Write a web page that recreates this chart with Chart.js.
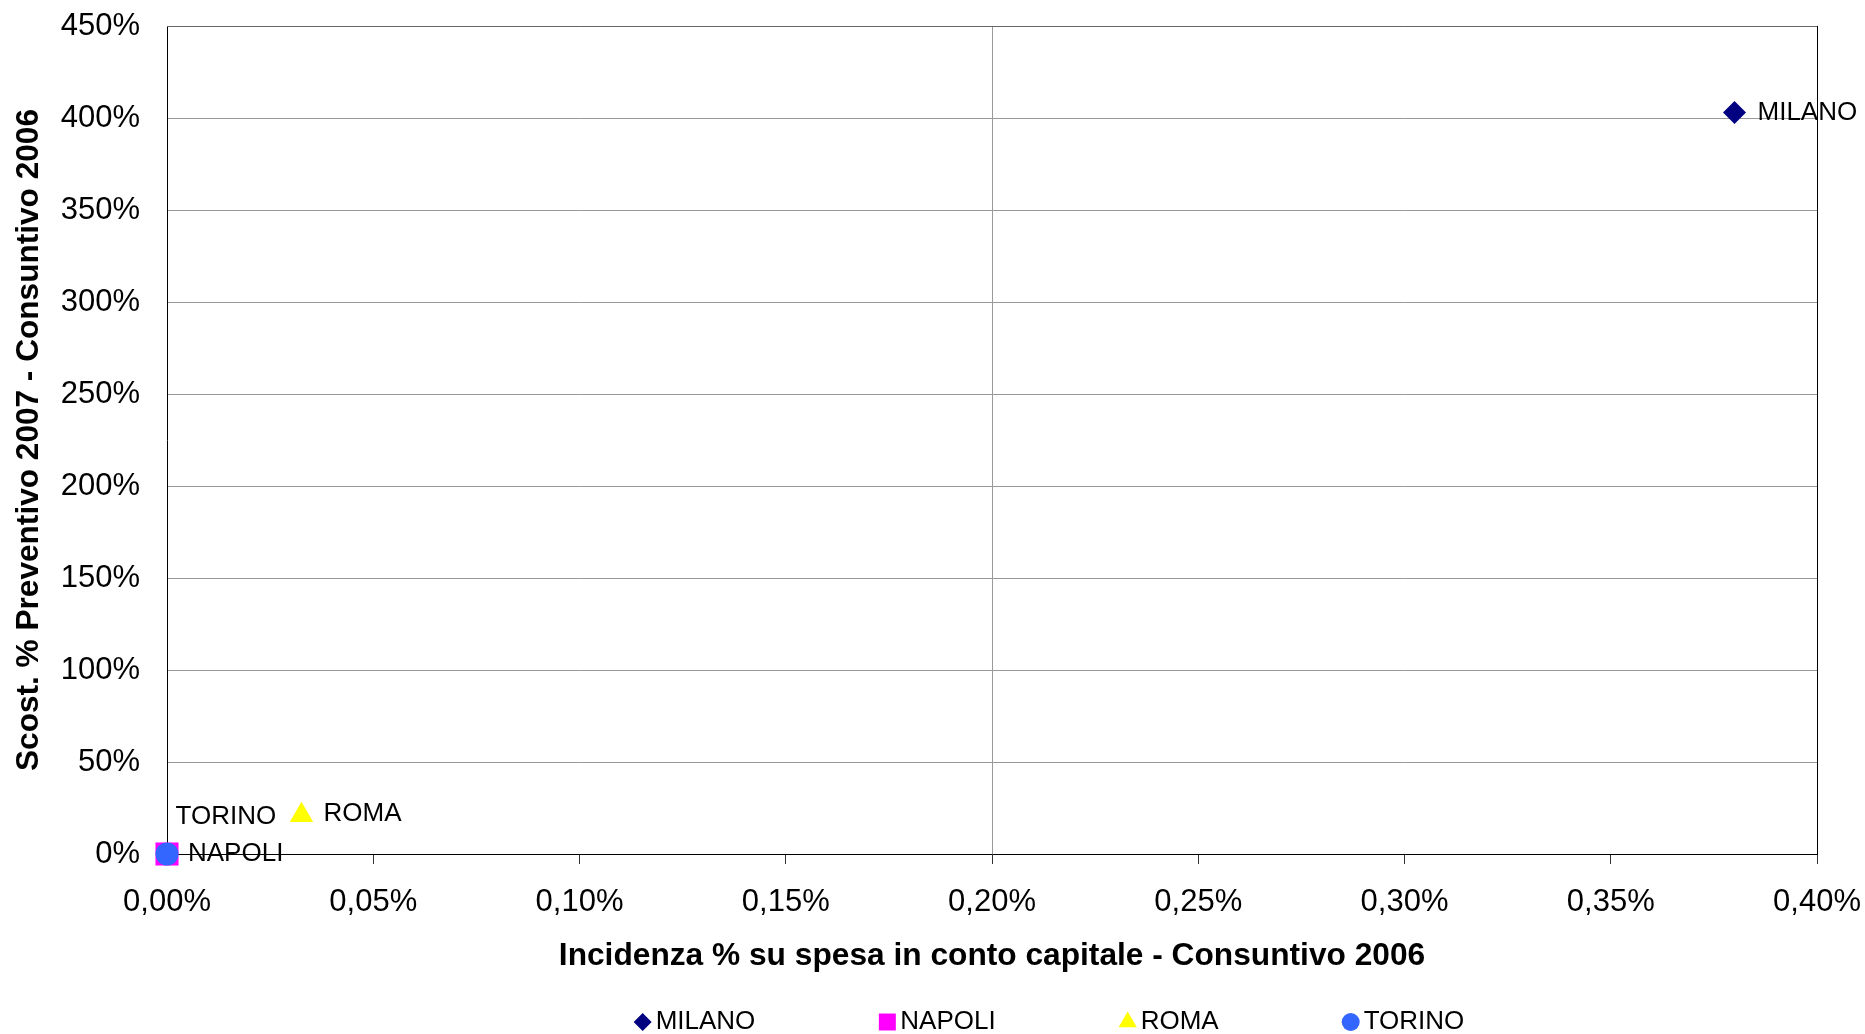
<!DOCTYPE html>
<html>
<head>
<meta charset="utf-8">
<script src="https://cdn.jsdelivr.net/npm/chart.js@4.4.1/dist/chart.umd.min.js"></script>
<style>
  html, body { margin: 0; padding: 0; background: #fff; }
</style>
</head>
<body>
<canvas id="chart" width="1865" height="1034"></canvas>
<script>
// series (one point per city)
const cities = ['MILANO', 'NAPOLI', 'ROMA', 'TORINO'];
const incidenza = [0.38, 0, 0.0326, 0];   // x: incidenza % su spesa in conto capitale
const scostamento = [403, 0, 21, 0];      // y: scost. % preventivo 2007 - consuntivo 2006

// axis ranges / tick steps
const xRange = [0, 0.4];
const xStep = 0.05;
const yRange = [0, 450];
const yStep = 50;

const FONT = "'Liberation Sans', Arial, sans-serif";

const markerStyles = [
  { color: '#000080', shape: 'rectRot', radius: 11.5, legendRadius: 9, labelOffset: [23, 0] },
  { color: '#FF00FF', shape: 'rect', radius: 16.3, legendRadius: 12, labelOffset: [21, 0] },
  { color: '#FFFF00', shape: 'triangle', radius: 13.5, legendRadius: 10.5, labelOffset: [22, -2] },
  { color: '#3366FF', shape: 'circle', radius: 11.5, legendRadius: 9, labelOffset: [8.5, -37] }
];

const datasets = cities.map((city, i) => ({
  label: city,
  data: [{ x: incidenza[i], y: scostamento[i] }],
  backgroundColor: markerStyles[i].color,
  borderColor: markerStyles[i].color,
  borderWidth: 0,
  pointStyle: markerStyles[i].shape,
  pointRadius: markerStyles[i].radius,
  pointHoverRadius: markerStyles[i].radius,
  clip: false,
  order: city === 'TORINO' ? 0 : 1
}));

// top + right frame of the plot area
const frame = {
  id: 'frame',
  beforeDatasetsDraw(chart) {
    const { ctx, chartArea: a } = chart;
    ctx.save();
    ctx.lineWidth = 1;
    ctx.strokeStyle = '#666';
    ctx.beginPath();
    ctx.moveTo(a.left, a.top + 0.5);
    ctx.lineTo(a.right, a.top + 0.5);
    ctx.stroke();
    ctx.strokeStyle = '#000';
    ctx.beginPath();
    ctx.moveTo(a.right + 0.5, a.top);
    ctx.lineTo(a.right + 0.5, a.bottom);
    ctx.stroke();
    ctx.restore();
  }
};

// city names next to each marker
const pointLabels = {
  id: 'pointLabels',
  afterDatasetsDraw(chart) {
    const ctx = chart.ctx;
    ctx.save();
    ctx.font = '26px ' + FONT;
    ctx.fillStyle = '#000';
    ctx.textBaseline = 'middle';
    ctx.textAlign = 'left';
    chart.data.datasets.forEach((ds, i) => {
      const pt = chart.getDatasetMeta(i).data[0];
      const [dx, dy] = markerStyles[i].labelOffset;
      ctx.fillText(ds.label, pt.x + dx, pt.y + dy);
    });
    ctx.restore();
  }
};

// legend row under the axis title, Excel-like spacing
const legendRow = {
  id: 'legendRow',
  afterDraw(chart) {
    const ctx = chart.ctx;
    const y = 1022;
    const markerToText = 22;
    const gap = 123;
    ctx.save();
    ctx.font = '26px ' + FONT;
    ctx.textBaseline = 'middle';
    ctx.textAlign = 'left';
    const widths = chart.data.datasets.map(ds => ctx.measureText(ds.label).width);
    const total = widths.reduce((s, w) => s + markerToText + w, 0) + gap * (widths.length - 1);
    let x = 1049 - total / 2;
    chart.data.datasets.forEach((ds, i) => {
      ctx.fillStyle = markerStyles[i].color;
      Chart.helpers.drawPoint(ctx, {
        pointStyle: markerStyles[i].shape,
        radius: markerStyles[i].legendRadius,
        rotation: 0,
        borderWidth: 0
      }, x + 9, y);
      ctx.fillStyle = '#000';
      ctx.fillText(ds.label, x + markerToText, y);
      x += markerToText + widths[i] + gap;
    });
    ctx.restore();
  }
};

new Chart(document.getElementById('chart'), {
  type: 'scatter',
  data: { datasets },
  options: {
    responsive: false,
    animation: false,
    layout: { padding: { left: 0, right: 48, top: 26, bottom: 59 } },
    plugins: {
      legend: { display: false },
      tooltip: { enabled: false }
    },
    scales: {
      x: {
        type: 'linear',
        min: xRange[0],
        max: xRange[1],
        afterFit(scale) {
          scale.height = 121;
          scale.paddingLeft = 0;
          scale.paddingRight = 0;
        },
        border: { color: '#000', width: 1 },
        grid: {
          color: ctx => (ctx.tick && Math.abs(ctx.tick.value - 0.2) < 1e-9) ? '#999' : 'rgba(0,0,0,0)',
          tickColor: '#333',
          tickLength: 10,
          drawTicks: true
        },
        ticks: {
          stepSize: xStep,
          padding: 20,
          color: '#000',
          font: { family: FONT, size: 31 },
          maxRotation: 0,
          callback: v => v.toFixed(2).replace('.', ',') + '%'
        },
        title: {
          display: true,
          text: 'Incidenza % su spesa in conto capitale - Consuntivo 2006',
          color: '#000',
          font: { family: FONT, size: 31.7, weight: 'bold' },
          padding: { top: 0, bottom: 0 }
        }
      },
      y: {
        type: 'linear',
        min: yRange[0],
        max: yRange[1],
        afterFit(scale) {
          scale.width = 167;
          scale.paddingTop = 0;
          scale.paddingBottom = 0;
        },
        border: { color: '#000', width: 1 },
        grid: {
          color: '#999',
          drawTicks: false
        },
        ticks: {
          stepSize: yStep,
          padding: 27,
          color: '#000',
          font: { family: FONT, size: 31 },
          callback: v => v + '%'
        },
        title: {
          display: true,
          text: 'Scost. % Preventivo 2007 - Consuntivo 2006',
          color: '#000',
          font: { family: FONT, size: 31.6, weight: 'bold' },
          padding: { top: 10, bottom: 0 }
        }
      }
    }
  },
  plugins: [frame, pointLabels, legendRow]
});
</script>
</body>
</html>
